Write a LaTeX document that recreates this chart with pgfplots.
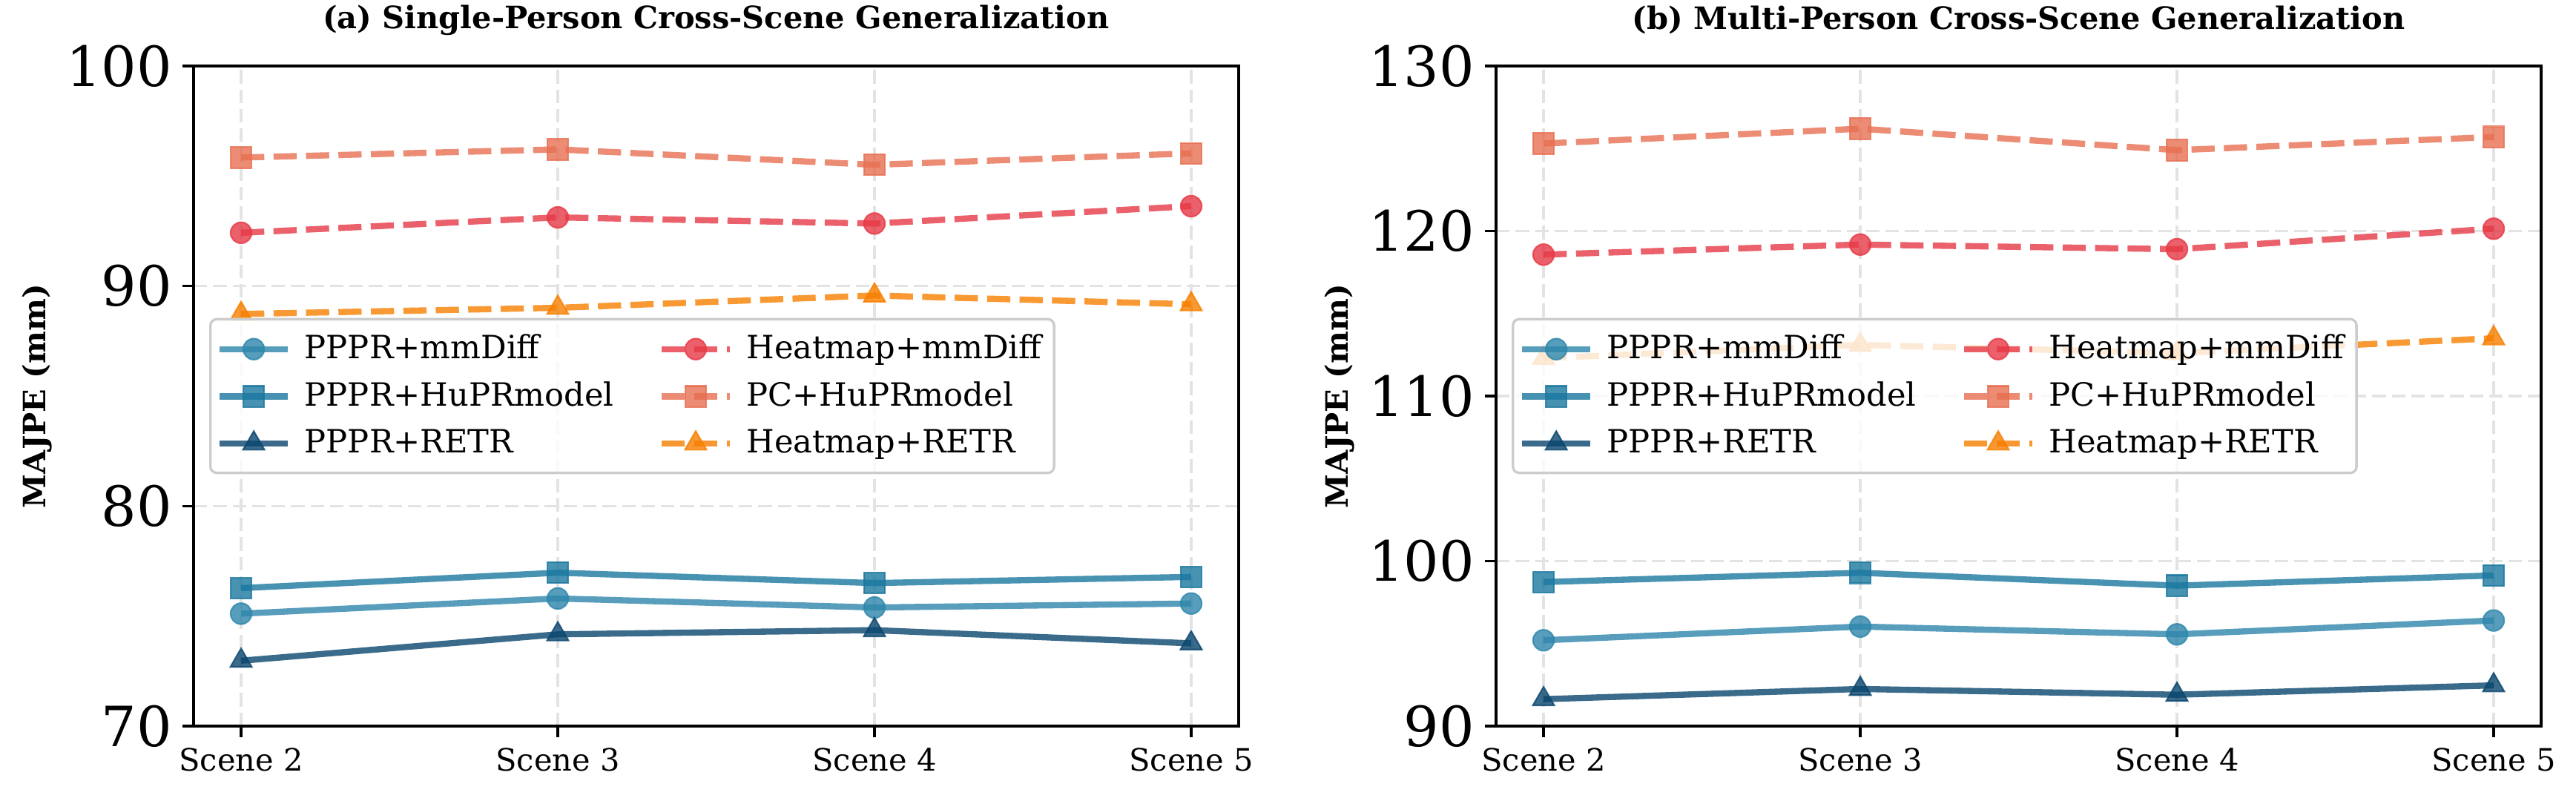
\documentclass[border=0pt]{standalone}
\usepackage{fontspec}
\setmainfont{DejaVu Serif}
\usepackage{pgfplots}
\pgfplotsset{compat=1.18}

\definecolor{cA}{HTML}{2E86AB}
\definecolor{cB}{HTML}{1A779F}
\definecolor{cC}{HTML}{0A466E}
\definecolor{cD}{HTML}{E63946}
\definecolor{cE}{HTML}{E76F51}
\definecolor{cF}{HTML}{F77F00}
\definecolor{gridc}{HTML}{E3E3E3}
\definecolor{legedge}{HTML}{CCCCCC}

\pgfplotsset{
  panel/.style={
    scale only axis, width=338.16bp, height=213.6bp,
    anchor=south west,
    xmin=-0.15, xmax=3.15,
    xtick={0,1,2,3}, xticklabels={Scene 2,Scene 3,Scene 4,Scene 5},
    tick pos=left, tick align=outside, major tick length=3.5bp,
    tick style={line width=0.8bp, black},
    axis line style={line width=0.8bp},
    grid=major,
    major grid style={gridc, line width=0.8bp, dash pattern=on 4.4bp off 1.9bp},
    /pgf/number format/assume math mode=true,
    xticklabel style={font=\fontsize{10}{12}\selectfont},
    yticklabel style={font=\fontsize{18}{21}\selectfont},
    ylabel={MAJPE (mm)},
    every axis y label/.style={at={(axis description cs:-0.15,0.5)}, rotate=90,
      anchor=center, font=\fontsize{10}{12}\selectfont\bfseries},
    title style={font=\fontsize{10}{12}\selectfont\bfseries,
      at={(axis description cs:0.5,1)}, anchor=center, yshift=8.9bp},
    legend columns=2,
    legend cell align=left,
    legend style={at={(axis description cs:0.015,0.5)}, anchor=west,
      draw=legedge, line width=0.8bp, fill=white, fill opacity=0.8,
      draw opacity=1, text opacity=1, rounded corners=2bp,
      font=\fontsize{10.4}{12}\selectfont,
      inner xsep=2bp, inner ysep=3bp, row sep=2bp,
      /tikz/every odd column/.append style={column sep=2.5bp},
      /tikz/every even column/.append style={column sep=12.5bp}},
    legend image code/.code={
      \draw[mark repeat=2,mark phase=2,##1] plot coordinates {(0bp,0bp) (11bp,0bp) (22bp,0bp)};
    },
    every axis plot/.append style={line width=2bp, opacity=0.8},
  },
  sA/.style={cA, solid, mark=*, mark size=3.4bp, mark options={solid, fill=cA, line width=0.5bp}},
  sB/.style={cB, solid, mark=square*, mark size=3.4bp, mark options={solid, fill=cB, line width=0.5bp}},
  sC/.style={cC, solid, mark=triangle*, mark size=4bp, mark options={solid, fill=cC, line width=0.5bp}},
  sD/.style={cD, dash pattern=on 7.5bp off 3bp, mark=*, mark size=3.4bp, mark options={solid, fill=cD, line width=0.5bp}},
  sE/.style={cE, dash pattern=on 7.5bp off 3bp, mark=square*, mark size=3.4bp, mark options={solid, fill=cE, line width=0.5bp}},
  sF/.style={cF, dash pattern=on 7.5bp off 3bp, mark=triangle*, mark size=4bp, mark options={solid, fill=cF, line width=0.5bp}},
}

\begin{document}
\begin{tikzpicture}
\useasboundingbox (0,0) rectangle (833.52bp,259.2bp);

\begin{axis}[panel, at={(62.64bp,24.24bp)},
  ymin=70, ymax=100, ytick={70,80,90,100},
  title={(a) Single-Person Cross-Scene Generalization}]
\addplot[sA] coordinates {(0,75.11) (1,75.80) (2,75.39) (3,75.57)};
\addlegendentry{PPPR+mmDiff}
\addplot[sD] coordinates {(0,92.42) (1,93.12) (2,92.84) (3,93.63)};
\addlegendentry{Heatmap+mmDiff}
\addplot[sB] coordinates {(0,76.27) (1,76.97) (2,76.50) (3,76.78)};
\addlegendentry{PPPR+HuPRmodel}
\addplot[sE] coordinates {(0,95.84) (1,96.21) (2,95.51) (3,96.03)};
\addlegendentry{PC+HuPRmodel}
\addplot[sC] coordinates {(0,72.97) (1,74.17) (2,74.36) (3,73.76)};
\addlegendentry{PPPR+RETR}
\addplot[sF] coordinates {(0,88.73) (1,89.01) (2,89.57) (3,89.17)};
\addlegendentry{Heatmap+RETR}
\end{axis}

\begin{axis}[panel, at={(484.08bp,24.24bp)},
  ymin=90, ymax=130, ytick={90,100,110,120,130},
  title={(b) Multi-Person Cross-Scene Generalization}]
\addplot[sA] coordinates {(0,95.20) (1,96.03) (2,95.56) (3,96.40)};
\addlegendentry{PPPR+mmDiff}
\addplot[sD] coordinates {(0,118.57) (1,119.18) (2,118.90) (3,120.14)};
\addlegendentry{Heatmap+mmDiff}
\addplot[sB] coordinates {(0,98.73) (1,99.29) (2,98.51) (3,99.13)};
\addlegendentry{PPPR+HuPRmodel}
\addplot[sE] coordinates {(0,125.30) (1,126.20) (2,124.90) (3,125.70)};
\addlegendentry{PC+HuPRmodel}
\addplot[sC] coordinates {(0,91.63) (1,92.25) (2,91.90) (3,92.47)};
\addlegendentry{PPPR+RETR}
\addplot[sF] coordinates {(0,112.30) (1,113.10) (2,112.60) (3,113.50)};
\addlegendentry{Heatmap+RETR}
\end{axis}
\end{tikzpicture}
\end{document}
